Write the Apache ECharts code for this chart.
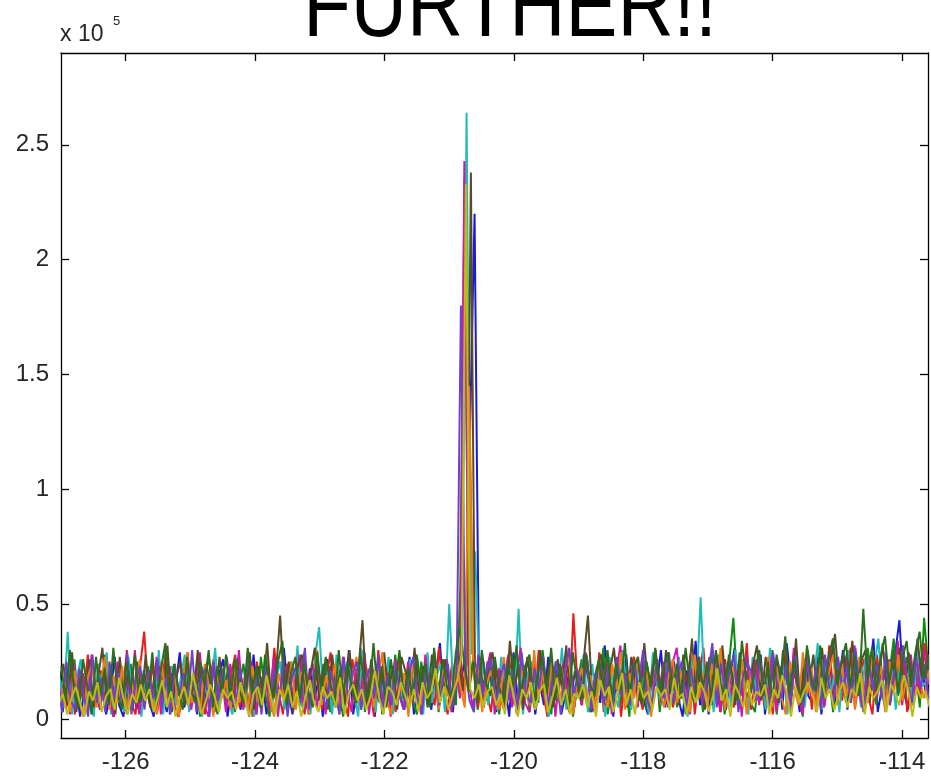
<!DOCTYPE html>
<html>
<head>
    <meta charset="UTF-8">
    <title>FURTHER!!</title>
    <script src="https://cdn.jsdelivr.net/npm/echarts@6/dist/echarts.min.js"></script>
    <style>
        html, body { margin: 0; padding: 0; background: #fff; }
    </style>
</head>
<body>
<div id="main" style="width: 931px;height: 777px;"></div>

<script type="text/javascript">
    // frequency grid of the samples (each trace is slightly shifted)
    var xStart = -127;
    var xStep = 0.067;
    var xTicks = [-126, -124, -122, -120, -118, -116, -114];
    var yTicks = [0, 50000, 100000, 150000, 200000, 250000];

    var names = ['t1', 't2', 't3', 't4', 't5', 't6', 't7', 't8', 't9', 't10'];
    var offsets = [-0.04, 0.007, 0.013, -0.03, 0.003, -0.03, 0.01, -0.05, 0.005, -0.04];
    var colors = ['#1a1adb', '#0f8c0f', '#e81c1c', '#20bcbc', '#cc1aa8', '#5a4a28', '#f27a14', '#7040cc', '#2a6e1e', '#bcbc14'];

    // magnitudes, in thousands
    var t1 = [14, 3, 21, 9, 17, 1, 12, 25, 5, 15, 19, 2, 11, 27, 6, 1, 16, 22, 4, 13,
        18, 7, 1, 24, 12, 3, 20, 14, 29, 5, 11, 17, 2, 23, 8, 15, 3, 19, 26, 1,
        13, 21, 4, 16, 1, 28, 9, 18, 2, 14, 24, 6, 31, 12, 2, 19, 15, 4, 22, 8,
        17, 1, 26, 13, 5, 20, 9, 30, 2, 15, 23, 6, 18, 1, 25, 12, 16, 3, 21, 14,
        7, 27, 2, 16, 10, 22, 4, 19, 33, 8, 14, 3, 24, 18, 28, 130, 220, 20, 6, 25,
        13, 3, 21, 15, 1, 29, 7, 18, 10, 24, 2, 16, 6, 27, 14, 20, 2, 11, 23, 5,
        19, 9, 26, 3, 15, 7, 32, 17, 1, 22, 10, 28, 4, 16, 24, 8, 2, 20, 14, 30,
        5, 18, 25, 9, 1, 21, 12, 34, 6, 17, 2, 23, 10, 27, 4, 19, 31, 8, 16, 3,
        22, 11, 28, 2, 18, 8, 25, 4, 33, 15, 20, 3, 26, 10, 7, 29, 2, 17, 24, 6,
        16, 30, 4, 21, 9, 27, 6, 19, 35, 3, 14, 24, 8, 28, 43, 12, 4, 22, 18, 26,
        12, 20];
    var t2 = [8, 19, 3, 26, 5, 15, 22, 2, 17, 4, 28, 9, 1, 20, 16, 3, 24, 7, 18, 11,
        23, 4, 16, 8, 30, 2, 19, 5, 14, 25, 6, 21, 1, 17, 27, 9, 2, 22, 7, 18,
        3, 15, 24, 6, 19, 2, 27, 11, 1, 20, 8, 17, 4, 25, 16, 6, 29, 2, 13, 21,
        9, 26, 3, 18, 11, 1, 23, 16, 5, 31, 3, 19, 10, 24, 2, 17, 6, 28, 12, 4,
        20, 8, 2, 25, 13, 5, 29, 3, 18, 10, 22, 6, 57, 235, 12, 27, 4, 19, 8, 24,
        17, 2, 21, 9, 28, 4, 16, 23, 3, 19, 7, 30, 11, 2, 25, 6, 18, 22, 1, 15,
        26, 8, 3, 20, 12, 31, 2, 14, 24, 6, 18, 1, 27, 9, 21, 4, 16, 29, 3, 19,
        14, 23, 5, 17, 2, 26, 8, 20, 3, 16, 28, 9, 18, 2, 24, 44, 11, 4, 21, 7,
        3, 25, 17, 8, 30, 2, 21, 12, 5, 27, 13, 1, 23, 19, 6, 32, 10, 20, 3, 26,
        18, 7, 28, 12, 22, 3, 31, 15, 6, 25, 8, 20, 35, 10, 19, 27, 12, 23, 5, 44,
        21, 9];
    var t3 = [15, 4, 23, 2, 18, 9, 28, 3, 16, 21, 6, 25, 1, 19, 10, 30, 7, 2, 22, 38,
        9, 24, 3, 17, 27, 5, 20, 1, 15, 29, 6, 18, 23, 2, 16, 26, 4, 21, 10, 19,
        28, 5, 16, 22, 1, 25, 8, 19, 3, 31, 12, 2, 24, 14, 6, 27, 2, 20, 9, 23,
        4, 18, 29, 7, 21, 11, 1, 26, 14, 5, 24, 16, 1, 30, 8, 22, 13, 3, 27, 7,
        19, 9, 25, 3, 22, 14, 6, 31, 11, 2, 24, 15, 27, 8, 135, 20, 5, 26, 12, 3,
        23, 10, 4, 28, 14, 2, 25, 9, 21, 5, 30, 12, 1, 22, 16, 6, 27, 3, 46, 13,
        6, 26, 14, 8, 29, 3, 21, 11, 24, 1, 19, 7, 27, 12, 4, 23, 13, 30, 6, 20,
        25, 5, 17, 22, 8, 28, 2, 19, 31, 7, 21, 12, 3, 26, 14, 5, 24, 10, 33, 4,
        17, 27, 6, 20, 2, 25, 11, 30, 5, 22, 9, 18, 28, 4, 24, 15, 6, 32, 11, 21,
        8, 23, 31, 5, 19, 26, 10, 2, 28, 13, 22, 6, 25, 14, 30, 3, 20, 27, 9, 33,
        19, 24];
    var t4 = [22, 5, 38, 2, 17, 26, 4, 19, 1, 24, 8, 29, 2, 16, 21, 3, 27, 7, 18, 1,
        25, 10, 4, 30, 2, 19, 23, 6, 17, 28, 3, 14, 26, 1, 20, 11, 31, 4, 22, 8,
        2, 27, 13, 5, 24, 1, 20, 9, 29, 3, 17, 25, 4, 22, 8, 32, 5, 19, 2, 26,
        40, 7, 21, 2, 28, 10, 4, 23, 13, 1, 30, 6, 25, 3, 19, 9, 27, 2, 22, 11,
        5, 26, 9, 20, 2, 29, 7, 18, 24, 3, 50, 10, 22, 30, 264, 28, 73, 12, 25, 6,
        20, 4, 27, 10, 22, 6, 48, 2, 19, 25, 5, 29, 11, 1, 23, 8, 31, 4, 21, 12,
        9, 28, 3, 24, 7, 20, 1, 27, 12, 5, 30, 13, 4, 25, 9, 22, 2, 29, 13, 6,
        23, 5, 19, 27, 9, 1, 26, 12, 53, 7, 21, 3, 28, 11, 24, 5, 30, 10, 20, 2,
        27, 8, 22, 4, 31, 12, 6, 25, 2, 20, 29, 9, 5, 24, 13, 33, 4, 26, 11, 21,
        3, 24, 30, 9, 20, 5, 27, 12, 22, 35, 8, 19, 26, 4, 29, 11, 23, 6, 31, 14,
        16, 25];
    var t5 = [10, 18, 2, 24, 7, 20, 3, 28, 9, 4, 22, 12, 1, 25, 6, 19, 8, 30, 2, 16,
        21, 5, 27, 2, 16, 23, 7, 1, 19, 26, 4, 17, 29, 6, 1, 22, 10, 20, 3, 24,
        8, 30, 4, 18, 25, 2, 16, 21, 5, 27, 1, 19, 23, 7, 17, 28, 3, 15, 24, 5,
        19, 2, 23, 9, 6, 27, 12, 3, 22, 8, 29, 2, 18, 24, 6, 20, 1, 26, 10, 4,
        25, 7, 18, 2, 28, 10, 21, 5, 19, 26, 3, 23, 9, 243, 17, 4, 24, 8, 20, 29,
        2, 22, 9, 27, 5, 18, 31, 7, 3, 24, 11, 21, 6, 28, 1, 19, 25, 4, 16, 22,
        6, 29, 11, 3, 23, 9, 26, 2, 20, 32, 7, 18, 24, 5, 27, 10, 3, 21, 13, 25,
        5, 24, 31, 9, 20, 2, 18, 27, 6, 22, 10, 29, 3, 19, 25, 7, 21, 1, 28, 11,
        26, 6, 20, 10, 28, 3, 23, 12, 7, 31, 11, 2, 25, 15, 8, 27, 5, 19, 33, 7,
        20, 27, 8, 32, 12, 4, 24, 29, 9, 21, 5, 26, 13, 34, 6, 22, 28, 10, 24, 30,
        15, 21];
    var t6 = [17, 24, 6, 29, 3, 20, 9, 26, 5, 18, 31, 7, 22, 2, 27, 10, 21, 4, 25, 8,
        28, 5, 19, 23, 8, 32, 3, 18, 25, 6, 21, 10, 30, 2, 24, 13, 6, 27, 11, 22,
        5, 26, 14, 9, 29, 4, 23, 11, 33, 7, 19, 45, 9, 25, 3, 22, 28, 6, 20, 31,
        8, 24, 4, 28, 12, 22, 6, 30, 10, 20, 43, 5, 26, 13, 7, 29, 11, 23, 4, 27,
        20, 7, 31, 11, 23, 5, 28, 13, 8, 26, 15, 6, 30, 12, 24, 238, 9, 27, 5, 22,
        29, 10, 21, 6, 34, 12, 24, 4, 27, 14, 8, 30, 11, 23, 5, 26, 13, 32, 7, 21,
        12, 25, 45, 9, 22, 28, 6, 20, 31, 11, 24, 5, 27, 15, 8, 33, 12, 23, 26, 7,
        30, 11, 22, 6, 28, 13, 35, 9, 24, 4, 27, 14, 8, 32, 12, 25, 6, 29, 15, 9,
        23, 32, 8, 27, 13, 24, 7, 30, 15, 10, 35, 6, 26, 14, 28, 9, 31, 12, 24, 37,
        13, 28, 16, 34, 10, 25, 30, 7, 27, 15, 33, 11, 26, 17, 31, 9, 29, 14, 35, 18,
        18, 27];
    var t7 = [11, 16, 3, 21, 8, 1, 18, 24, 5, 15, 27, 4, 19, 7, 23, 2, 17, 9, 26, 6,
        20, 8, 2, 25, 11, 5, 22, 1, 18, 29, 7, 15, 3, 24, 14, 1, 21, 9, 17, 4,
        26, 7, 18, 3, 23, 10, 5, 28, 9, 1, 20, 12, 6, 25, 4, 19, 22, 2, 16, 30,
        6, 19, 10, 24, 2, 21, 8, 17, 27, 4, 16, 22, 5, 18, 29, 8, 2, 23, 10, 20,
        1, 25, 12, 6, 20, 9, 28, 4, 22, 11, 7, 26, 14, 5, 145, 18, 24, 3, 15, 21,
        10, 4, 27, 8, 19, 2, 23, 12, 6, 30, 9, 21, 3, 25, 13, 7, 20, 28, 2, 17,
        22, 8, 19, 3, 26, 11, 5, 24, 13, 29, 4, 20, 9, 27, 6, 21, 1, 23, 12, 5,
        19, 26, 7, 21, 10, 3, 28, 9, 20, 5, 24, 12, 31, 4, 17, 23, 8, 26, 2, 20,
        7, 21, 12, 27, 5, 23, 10, 2, 25, 13, 6, 29, 11, 22, 3, 26, 9, 20, 28, 6,
        24, 10, 21, 4, 27, 12, 7, 30, 13, 23, 3, 25, 11, 28, 8, 20, 5, 26, 16, 9,
        21, 6];
    var t8 = [19, 3, 25, 8, 4, 22, 10, 1, 28, 7, 18, 3, 24, 9, 20, 5, 29, 2, 17, 23,
        4, 21, 9, 26, 5, 18, 2, 24, 10, 20, 6, 30, 3, 17, 22, 1, 25, 8, 19, 27,
        9, 4, 22, 11, 28, 6, 19, 2, 24, 10, 21, 5, 26, 1, 18, 23, 7, 31, 4, 20,
        24, 10, 5, 21, 12, 2, 27, 8, 20, 25, 4, 17, 22, 9, 28, 3, 19, 6, 24, 10,
        4, 20, 27, 9, 2, 23, 11, 26, 6, 19, 24, 5, 18, 180, 22, 8, 3, 28, 10, 21,
        26, 6, 18, 24, 8, 21, 3, 29, 11, 7, 22, 13, 27, 5, 16, 25, 2, 20, 31, 9,
        21, 10, 28, 4, 19, 24, 7, 22, 3, 27, 10, 20, 6, 25, 12, 30, 8, 4, 23, 13,
        9, 29, 7, 20, 25, 4, 22, 11, 27, 8, 19, 33, 5, 24, 10, 21, 28, 3, 18, 25,
        20, 8, 26, 12, 5, 29, 15, 9, 24, 3, 27, 13, 6, 30, 11, 23, 4, 28, 13, 8,
        27, 12, 23, 7, 31, 14, 4, 26, 13, 24, 9, 29, 6, 22, 12, 32, 15, 7, 27, 13,
        24, 6];
    var t9 = [23, 8, 30, 12, 5, 26, 14, 2, 27, 10, 22, 6, 31, 11, 4, 25, 13, 28, 7, 21,
        9, 29, 6, 22, 33, 8, 24, 13, 4, 27, 12, 7, 25, 15, 30, 5, 23, 11, 28, 8,
        26, 13, 7, 31, 11, 23, 5, 28, 15, 9, 25, 34, 6, 20, 27, 9, 24, 12, 5, 29,
        12, 27, 16, 6, 30, 10, 25, 13, 7, 28, 15, 8, 33, 11, 23, 5, 26, 14, 30, 9,
        22, 8, 28, 13, 24, 6, 31, 11, 26, 14, 9, 29, 40, 23, 12, 25, 7, 30, 15, 10,
        27, 14, 7, 25, 12, 32, 9, 23, 28, 6, 21, 26, 11, 31, 8, 24, 13, 5, 29, 16,
        8, 28, 15, 10, 26, 13, 30, 7, 24, 12, 33, 9, 22, 27, 6, 25, 14, 31, 10, 23,
        29, 12, 24, 9, 31, 15, 7, 27, 13, 25, 6, 30, 16, 10, 28, 14, 8, 34, 17, 11,
        21, 30, 10, 25, 7, 28, 16, 36, 11, 26, 14, 8, 32, 18, 12, 29, 9, 27, 35, 15,
        25, 33, 14, 28, 10, 48, 17, 31, 12, 27, 36, 15, 30, 11, 26, 34, 14, 29, 38, 17,
        28, 12];
    var t10 = [6, 11, 2, 9, 14, 7, 1, 12, 8, 16, 3, 10, 13, 4, 18, 9, 2, 11, 7, 15,
        8, 13, 3, 10, 17, 5, 12, 1, 9, 14, 6, 20, 11, 2, 8, 15, 10, 3, 13, 9,
        12, 4, 16, 9, 1, 11, 14, 6, 19, 10, 2, 13, 8, 15, 5, 12, 1, 10, 17, 7,
        3, 14, 9, 12, 5, 18, 2, 11, 15, 8, 13, 4, 10, 21, 9, 2, 14, 12, 6, 16,
        10, 5, 13, 3, 16, 9, 12, 22, 7, 14, 4, 11, 17, 28, 233, 13, 9, 15, 5, 12,
        14, 6, 11, 2, 19, 10, 1, 13, 9, 16, 4, 12, 15, 3, 10, 18, 6, 13, 2, 11,
        9, 15, 5, 12, 1, 17, 10, 14, 3, 11, 20, 6, 13, 2, 16, 9, 12, 4, 14, 10,
        13, 4, 18, 9, 11, 2, 14, 7, 16, 12, 3, 10, 22, 8, 13, 1, 15, 11, 5, 17,
        6, 12, 10, 15, 2, 13, 9, 19, 11, 1, 14, 7, 12, 16, 10, 3, 18, 9, 13, 4,
        11, 16, 5, 13, 10, 20, 2, 14, 9, 12, 17, 3, 15, 11, 6, 19, 13, 1, 14, 9,
        12, 5];

    var traces = [t1, t2, t3, t4, t5, t6, t7, t8, t9, t10];

    var labelFont = "'Liberation Sans', Arial, sans-serif";

    var myChart = echarts.init(document.getElementById('main'));
    var option;

    var series = traces.map(function (vals, k) {
        return {
            name: names[k],
            type: 'line',
            xAxisIndex: 0,
            yAxisIndex: 0,
            showSymbol: false,
            symbol: 'none',
            silent: true,
            clip: true,
            lineStyle: { width: 2, color: colors[k] },
            itemStyle: { color: colors[k] },
            data: vals.map(function (v, i) {
                return [xStart + offsets[k] + i * xStep, v * 1000];
            })
        };
    });

    var axisLineStyle = { color: '#000', width: 1.3 };

    option = {
        animation: false,
        backgroundColor: '#fff',
        grid: { left: 61, right: 3, top: 53, bottom: 39 },
        graphic: [
            {
                // title is cut off by the top of the picture
                type: 'text',
                x: 510,
                y: 11,
                scaleX: 0.846,
                style: {
                    text: 'FURTHER!!',
                    x: 0,
                    y: 0,
                    align: 'center',
                    verticalAlign: 'middle',
                    font: '92px ' + labelFont,
                    fill: '#000'
                }
            },
            {
                type: 'text',
                x: 60,
                y: 46,
                style: {
                    text: 'x 10',
                    x: 0,
                    y: 0,
                    verticalAlign: 'bottom',
                    font: '23px ' + labelFont,
                    fill: '#262626'
                }
            },
            {
                type: 'text',
                x: 113,
                y: 21,
                style: {
                    text: '5',
                    x: 0,
                    y: 0,
                    verticalAlign: 'middle',
                    font: '13px ' + labelFont,
                    fill: '#262626'
                }
            }
        ],
        xAxis: [
            {
                type: 'value',
                min: -127,
                max: -113.6,
                position: 'bottom',
                axisLine: { onZero: false, lineStyle: axisLineStyle },
                axisTick: { inside: true, length: 8, customValues: xTicks, lineStyle: axisLineStyle },
                axisLabel: { customValues: xTicks, margin: 12, fontSize: 24, fontFamily: labelFont, color: '#262626' },
                splitLine: { show: false }
            },
            {
                type: 'value',
                min: -127,
                max: -113.6,
                position: 'top',
                axisLine: { onZero: false, lineStyle: axisLineStyle },
                axisTick: { inside: true, length: 8, customValues: xTicks, lineStyle: axisLineStyle },
                axisLabel: { show: false },
                splitLine: { show: false }
            }
        ],
        yAxis: [
            {
                type: 'value',
                min: -8300,
                max: 290000,
                position: 'left',
                axisLine: { show: true, onZero: false, lineStyle: axisLineStyle },
                axisTick: { show: true, inside: true, length: 8, customValues: yTicks, lineStyle: axisLineStyle },
                axisLabel: {
                    customValues: yTicks, margin: 12, fontSize: 24, fontFamily: labelFont, color: '#262626',
                    formatter: function (v) { return String(v / 100000); }
                },
                splitLine: { show: false }
            },
            {
                type: 'value',
                min: -8300,
                max: 290000,
                position: 'right',
                axisLine: { show: true, onZero: false, lineStyle: axisLineStyle },
                axisTick: { show: true, inside: true, length: 8, customValues: yTicks, lineStyle: axisLineStyle },
                axisLabel: { show: false },
                splitLine: { show: false }
            }
        ],
        series: series
    };

    option && myChart.setOption(option);
</script>
</body>
</html>
